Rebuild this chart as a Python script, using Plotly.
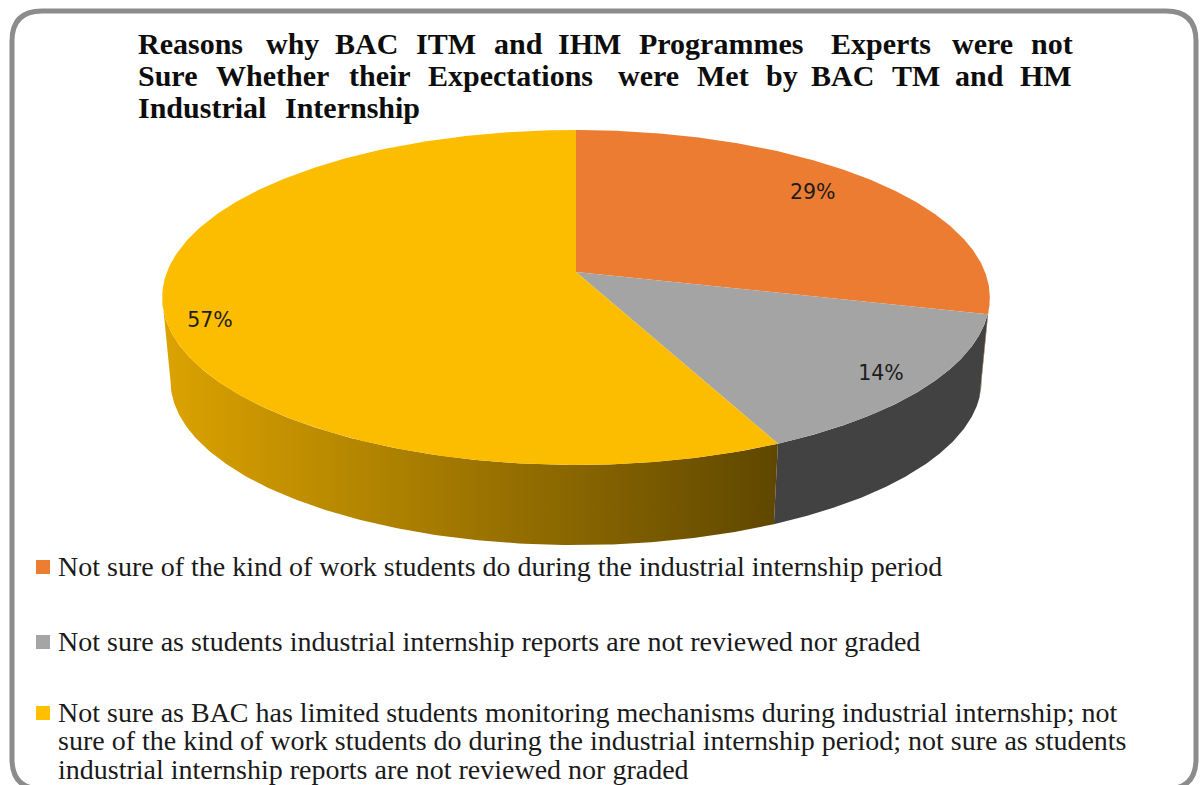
import numpy as np
import plotly.graph_objects as go

# Chart data
SHARES = [29, 14, 57]
TOP_COLORS = ["#EC7C32", "#A4A4A4", "#FCBD00"]
KEY_COLORS = ["#ED7D31", "#A5A5A5", "#FFC000"]
REASONS = [
    ["Not sure of the kind of work students do during the industrial internship period"],
    ["Not sure as students industrial internship reports are not reviewed nor graded"],
    ["Not sure as BAC has limited students monitoring mechanisms during industrial internship; not",
     "sure of the kind of work students do during the industrial internship period; not sure as students",
     "industrial internship reports are not reviewed nor graded"],
]
TITLE_LINES = [
    ["Reasons", "why", "BAC", "ITM", "and", "IHM", "Programmes", "Experts", "were", "not"],
    ["Sure", "Whether", "their", "Expectations", "were", "Met", "by", "BAC", "TM", "and", "HM"],
    ["Industrial", "Internship"],
]

# Justified title layout: where each word starts on its line
TITLE_WORD_X = [
    [137, 265, 334, 415, 493, 557, 638, 830, 951, 1030],
    [137, 215, 348, 427, 617, 696, 765, 810, 891, 954, 1019],
    [137, 284],
]
TITLE_LINE_Y = [43, 75, 107]
SERIF = "Liberation Serif"

# Perspective disk: screen position of the apex, radii and foreshortening
CX, APEX_Y = 576.0, 272.0
RX, RY, PERSP = 409.0, 163.6, 0.152
BASE_Y, BASE_SCALE = 356.0, 0.98


def project(theta, r=1.0, base=False):
    """Map clockwise-from-north angles on the disk to screen coordinates."""
    u, v = r * np.sin(theta), r * np.cos(theta)
    w = 1 + PERSP * v
    if base:
        return CX + BASE_SCALE * RX * u / w, BASE_Y - BASE_SCALE * RY * v / w
    return CX + RX * u / w, APEX_Y - RY * v / w


edges = 2 * np.pi * np.cumsum([0] + SHARES) / sum(SHARES)
fig = go.Figure()

# Side wall: only the stretch of rim between the two silhouette tangents
VISIBLE_FROM, VISIBLE_TO = np.radians(98.7), np.radians(261.3)
SIDE_STYLE = [
    dict(fillcolor="#8A4A1E"),
    dict(fillcolor="#424242"),
    dict(fillgradient=dict(type="horizontal",
                           colorscale=[[0, "#DCA300"], [1, "#5F4700"]])),
]
for start, stop, style in zip(edges[:-1], edges[1:], SIDE_STYLE):
    a, b = max(start, VISIBLE_FROM), min(stop, VISIBLE_TO)
    if a >= b:
        continue
    t = np.linspace(a, b, 160)
    xt, yt = project(t)
    xb, yb = project(t[::-1], base=True)
    fig.add_trace(go.Scatter(
        x=np.r_[xt, xb], y=np.r_[yt, yb], mode="lines", fill="toself",
        line=dict(width=0), hoverinfo="skip", showlegend=False, **style))

# Top face of each slice
for start, stop, color in zip(edges[:-1], edges[1:], TOP_COLORS):
    t = np.linspace(start, stop, 240)
    xt, yt = project(t)
    fig.add_trace(go.Scatter(
        x=np.r_[CX, xt, CX], y=np.r_[APEX_Y, yt, APEX_Y], mode="lines", fill="toself",
        fillcolor=color, line=dict(width=0), hoverinfo="skip", showlegend=False))

# Percentage labels, placed along each slice's mid-angle
LABEL_RADIUS = [0.786, 0.885, 0.89]
LABEL_SHIFT_Y = [-5, 2, 17]
mids = (edges[:-1] + edges[1:]) / 2
lx, ly = project(mids, np.array(LABEL_RADIUS))
fig.add_trace(go.Scatter(
    x=lx, y=ly + np.array(LABEL_SHIFT_Y), mode="text",
    text=[f"{s}%" for s in SHARES], textposition="middle center",
    textfont=dict(family="DejaVu Sans", size=20.5, color="#1c1c1c"),
    hoverinfo="skip", showlegend=False))

# Key: coloured squares beside the reason text
KEY_Y = [[566], [641], [712, 740.5, 769]]
fig.add_trace(go.Scatter(
    x=[43] * 3, y=[rows[0] + 1 for rows in KEY_Y], mode="markers",
    marker=dict(symbol="square", size=14, color=KEY_COLORS, line=dict(width=0)),
    hoverinfo="skip", showlegend=False))

annotations = []
for lines, rows in zip(REASONS, KEY_Y):
    for line, y in zip(lines, rows):
        annotations.append(dict(
            x=57, y=y, text=line, showarrow=False, xanchor="left", yanchor="middle",
            font=dict(family=SERIF, size=28, color="#1a1a1a"), borderpad=0))

for words, xs, y in zip(TITLE_LINES, TITLE_WORD_X, TITLE_LINE_Y):
    for word, x in zip(words, xs):
        annotations.append(dict(
            x=x, y=y, text=f"<b>{word}</b>", showarrow=False, xanchor="left", yanchor="middle",
            font=dict(family=SERIF, size=30, color="#0d0d0d"), borderpad=0))

# Rounded outer frame; its lower edge sits just past the page bottom
L, T, R, B, C = 12, 11, 1196, 789, 30
frame = (f"M {L + C} {T} L {R - C} {T} Q {R} {T} {R} {T + C} L {R} {B - C} "
         f"Q {R} {B} {R - C} {B} L {L + C} {B} Q {L} {B} {L} {B - C} L {L} {T + C} "
         f"Q {L} {T} {L + C} {T} Z")

fig.update_layout(
    width=1203, height=785, margin=dict(l=0, r=0, t=0, b=0),
    paper_bgcolor="white", plot_bgcolor="white",
    xaxis=dict(range=[0, 1203], visible=False, fixedrange=True),
    yaxis=dict(range=[785, 0], visible=False, fixedrange=True),
    shapes=[dict(type="path", path=frame, line=dict(color="#8C8C8C", width=5), layer="below")],
    annotations=annotations,
)

fig.write_html("out.html", config=dict(displayModeBar=False))
